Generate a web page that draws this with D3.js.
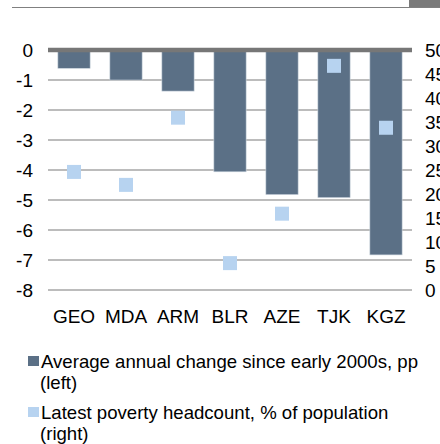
<!DOCTYPE html>
<html lang="en">
<head>
  <meta charset="UTF-8">
  <title>Poverty chart</title>
  <script src="https://d3js.org/d3.v7.min.js"></script>
  <style>
    html, body { margin: 0; padding: 0; background: #fff; }
    text { font-family: "Liberation Sans", Arial, sans-serif; fill: #000; }
    .grid line { stroke: #a6a6a6; stroke-width: 1.5; }
    .bar { fill: #5b7086; stroke: #c9d2dc; stroke-width: 0.6; }
    .pt { fill: #b7d3f0; }
  </style>
</head>
<body>
  <div id="container"></div>
  <script>
    const width = 440;
    const height = 444;

    const countries = ['GEO', 'MDA', 'ARM', 'BLR', 'AZE', 'TJK', 'KGZ'];
    const avgChange = [-0.61, -1.0, -1.37, -4.06, -4.82, -4.92, -6.83];
    const povertyRate = [24.6, 21.9, 35.9, 5.6, 15.9, 46.7, 33.8];
    const leftTicks = [0, -1, -2, -3, -4, -5, -6, -7, -8];
    const rightTicks = [50, 45, 40, 35, 30, 25, 20, 15, 10, 5, 0];
    const legendLabels = [
      ['Average annual change since early 2000s, pp', '(left)'],
      ['Latest poverty headcount, % of population', '(right)']
    ];

    const svg = d3.select('#container').append('svg')
      .attr('width', width).attr('height', height);

    // header rule + tab
    svg.append('line').attr('x1', 12).attr('x2', 440).attr('y1', 7.5).attr('y2', 7.5)
      .attr('stroke', '#808080').attr('stroke-width', 1.2);
    svg.append('rect').attr('x', 409).attr('y', 0).attr('width', 31).attr('height', 7)
      .attr('fill', '#7a7a7a');

    const x = d3.scaleBand().domain(countries).range([48, 412]).paddingInner(0.38).paddingOuter(0.19);
    const yL = d3.scaleLinear().domain([-8, 0]).range([290, 50]);
    const yR = d3.scaleLinear().domain([0, 50]).range([290, 50]);

    // gridlines
    svg.append('g').attr('class', 'grid')
      .selectAll('line').data(leftTicks.filter(d => d !== 0)).join('line')
      .attr('x1', 48).attr('x2', 412)
      .attr('y1', d => yL(d)).attr('y2', d => yL(d));

    // bars
    svg.append('g').selectAll('rect').data(avgChange).join('rect')
      .attr('class', 'bar')
      .attr('x', (d, i) => x(countries[i]))
      .attr('width', x.bandwidth())
      .attr('y', yL(0))
      .attr('height', d => yL(d) - yL(0));

    // zero line
    svg.append('line').attr('x1', 48).attr('x2', 412).attr('y1', yL(0)).attr('y2', yL(0))
      .attr('stroke', '#777').attr('stroke-width', 4.5);

    // poverty markers
    const ms = 14;
    svg.append('g').selectAll('rect').data(povertyRate).join('rect')
      .attr('class', 'pt')
      .attr('x', (d, i) => x(countries[i]) + x.bandwidth() / 2 - ms / 2)
      .attr('y', d => yR(d) - ms / 2)
      .attr('width', ms).attr('height', ms);

    // left axis (plain hyphen minus, as in the original)
    const axL = svg.append('g').attr('transform', 'translate(33,0)')
      .call(d3.axisLeft(yL).tickValues(leftTicks).tickSize(0).tickPadding(0).tickFormat(d => String(d)));
    axL.select('.domain').remove();
    axL.selectAll('text').attr('font-size', 19).attr('dy', '0.34em');

    // right axis (runs off the right edge like the source)
    const axR = svg.append('g').attr('transform', 'translate(425,0)')
      .call(d3.axisRight(yR).tickValues(rightTicks).tickSize(0).tickPadding(0));
    axR.select('.domain').remove();
    axR.selectAll('text').attr('font-size', 19).attr('dy', '0.34em');

    // x axis labels
    const axX = svg.append('g').attr('transform', 'translate(0,305)')
      .call(d3.axisBottom(x).tickSize(0).tickPadding(0));
    axX.select('.domain').remove();
    axX.selectAll('text').attr('font-size', 19).attr('dy', '0.95em');
    svg.selectAll('.tick text').attr('font-family', '"Liberation Sans", Arial, sans-serif').attr('fill', '#000');

    // legend
    const legColors = ['#5b7086', '#b7d3f0'];
    const legY = [361, 412];
    legendLabels.forEach((lines, i) => {
      svg.append('rect').attr('x', 28).attr('y', legY[i] - 5).attr('width', 11).attr('height', 10)
        .attr('fill', legColors[i]);
      const t = svg.append('text').attr('x', 41).attr('y', legY[i]).attr('font-size', 18.6);
      lines.forEach((s, k) => {
        t.append('tspan').attr('x', k === 0 ? 41 : 40).attr('dy', k === 0 ? '0.35em' : '1.17em').text(s);
      });
    });
  </script>
</body>
</html>
